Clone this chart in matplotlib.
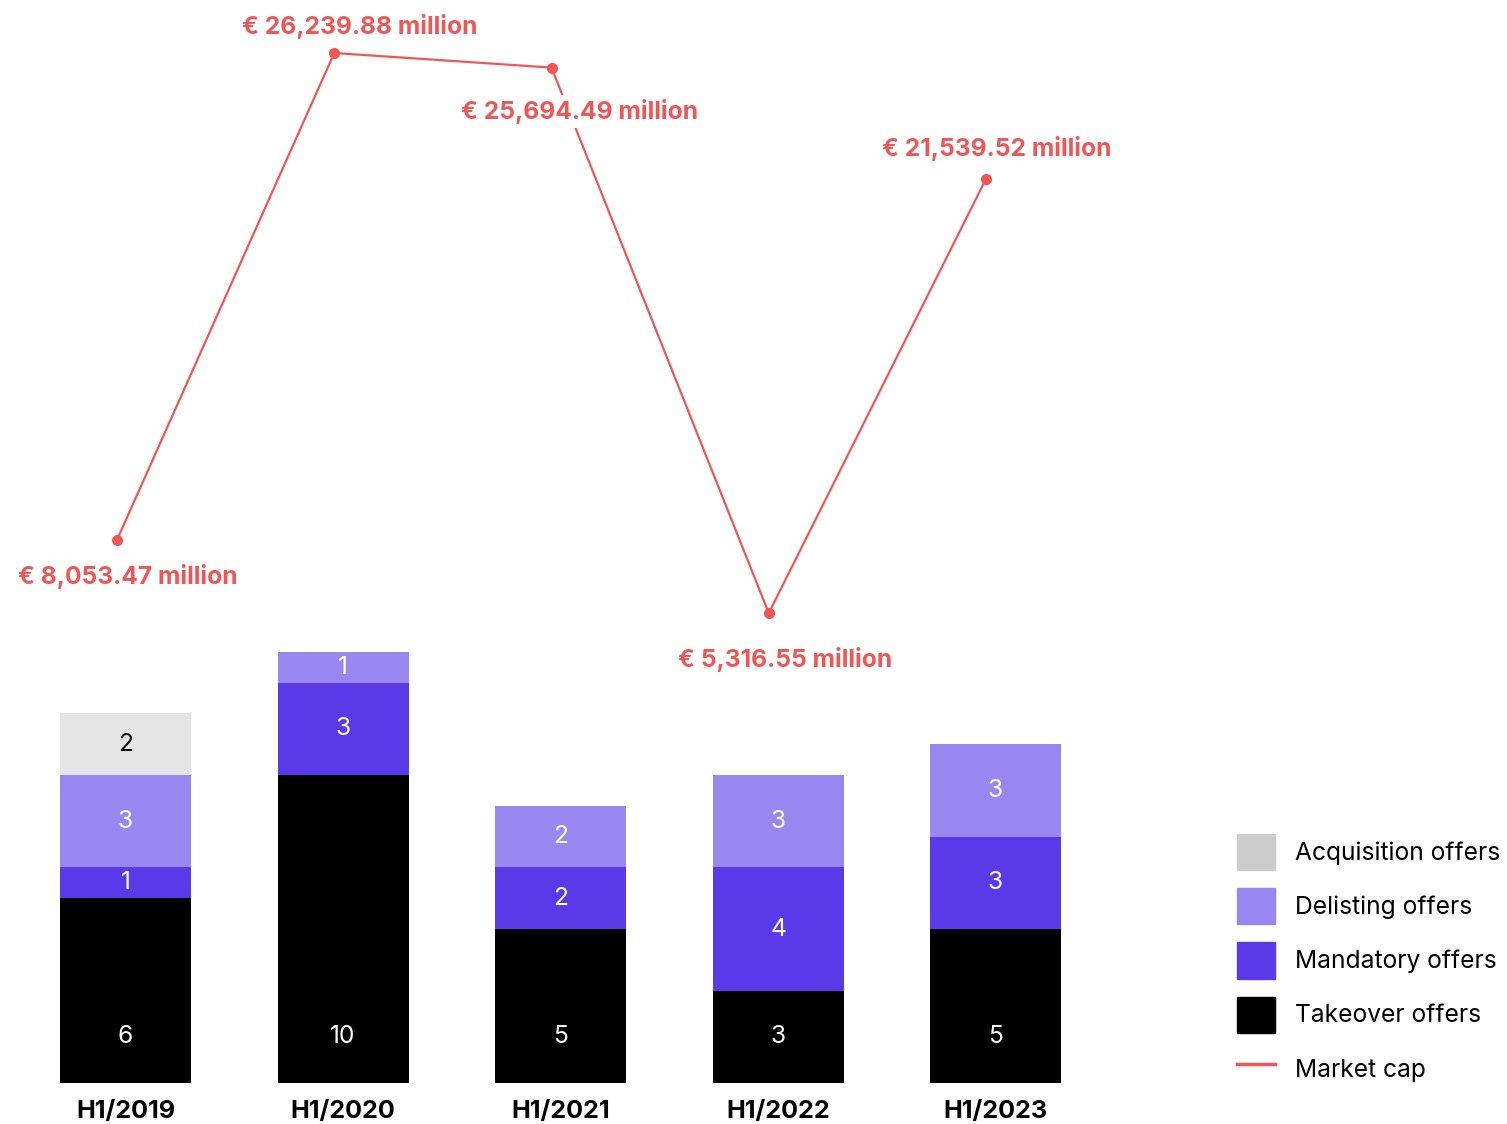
import numpy as np
import matplotlib.pyplot as plt
from matplotlib.patches import Patch
from matplotlib.lines import Line2D

plt.rcParams['font.family'] = ['Inter', 'DejaVu Sans']

# data
periods = ['H1/2019', 'H1/2020', 'H1/2021', 'H1/2022', 'H1/2023']
takeover = [6, 10, 5, 3, 5]
mandatory = [1, 3, 2, 4, 3]
delisting = [3, 1, 2, 3, 3]
acquisition = [2, 0, 0, 0, 0]
market_cap = [8053.47, 26239.88, 25694.49, 5316.55, 21539.52]
cap_labels = ['€ 8,053.47 million', '€ 26,239.88 million', '€ 25,694.49 million',
              '€ 5,316.55 million', '€ 21,539.52 million']

c_take = '#000000'
c_mand = '#5a3ae8'
c_del = '#9887f0'
c_acq = '#e5e5e5'
c_line = '#f25555'
fs = 17.7

W, H = 1507, 1124
fig = plt.figure(figsize=(W / 100, H / 100), dpi=100)
pos = [0, 41 / H, 1110 / W, 1083 / H]
ax = fig.add_axes(pos)

x = np.arange(len(periods))
bw = 131 / 217.5
bottom = np.zeros(len(periods))
series = [(takeover, c_take, 'white'), (mandatory, c_mand, 'white'),
          (delisting, c_del, 'white'), (acquisition, c_acq, 'black')]
for k, (vals, col, tcol) in enumerate(series):
    vals = np.array(vals)
    ax.bar(x, vals, bw, bottom=bottom, color=col, linewidth=0)
    for i in range(len(x)):
        if vals[i] > 0:
            ypos = 1.5 if k == 0 else bottom[i] + vals[i] / 2
            ax.text(x[i], ypos, str(vals[i]), ha='center', va='center',
                    color=tcol, fontsize=fs)
    bottom += vals

ax.set_xlim(-125.5 / 217.5, (1110 - 125.5) / 217.5)
ax.set_ylim(0, 1083 / 30.8)
ax.set_xticks(x)
ax.set_xticklabels(periods, fontsize=18.2, fontweight='bold')
ax.tick_params(axis='x', length=0, pad=12)
ax.set_yticks([])
for s in ax.spines.values():
    s.set_visible(False)

# market cap line
ax2 = fig.add_axes(pos)
ax2.patch.set_visible(False)
ax2.plot(x, market_cap, color=c_line, lw=1.6, marker='o', markersize=7, zorder=2)
ax2.set_xlim(-117 / 217.25, (1110 - 117) / 217.25)
ax2.set_ylim(-12236, 28220)
ax2.axis('off')
offsets = [(11, -37), (25, 27), (28, -44), (16, -46), (11, 30)]
for i, (lab, off) in enumerate(zip(cap_labels, offsets)):
    bbox = dict(fc='white', ec='none', pad=3) if i == 2 else None
    ax2.annotate(lab, (x[i], market_cap[i]), xytext=off, textcoords='offset pixels',
                 ha='center', va='center', color=c_line, fontsize=fs,
                 fontweight='bold', bbox=bbox, zorder=5)

handles = [Patch(color='#cccccc', label='Acquisition offers'),
           Patch(color=c_del, label='Delisting offers'),
           Patch(color=c_mand, label='Mandatory offers'),
           Patch(color=c_take, label='Takeover offers'),
           Line2D([], [], color=c_line, lw=2.5, label='Market cap')]
fig.legend(handles=handles, loc='upper left', bbox_to_anchor=(1237 / W, 1 - 834 / H),
           frameon=False, fontsize=fs, handlelength=1.545, handleheight=1.89,
           handletextpad=0.8, labelspacing=0.73, borderaxespad=0, borderpad=0)

fig.savefig('out.png', dpi=100)
